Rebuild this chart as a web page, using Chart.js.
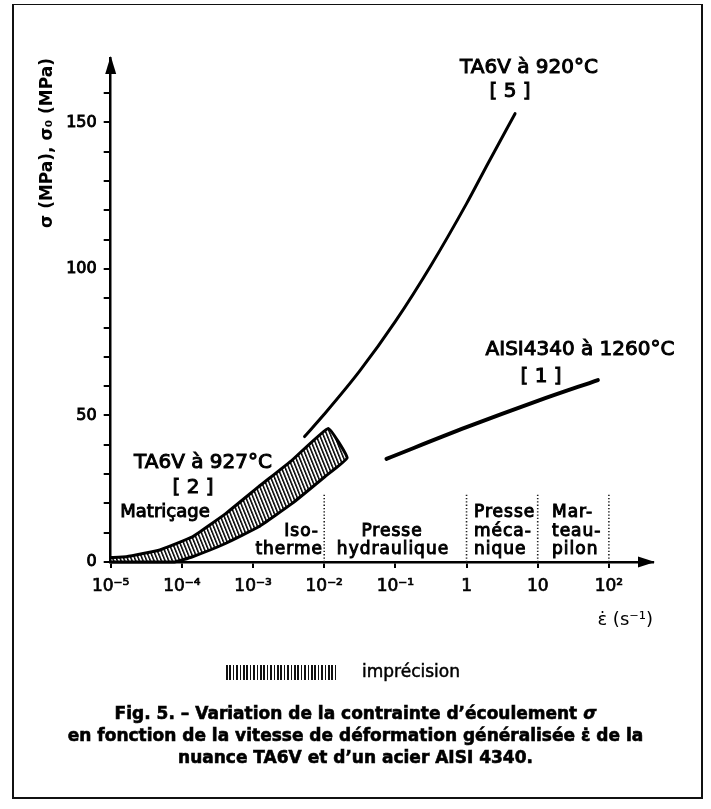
<!DOCTYPE html>
<html>
<head>
<meta charset="utf-8">
<script src="https://cdn.jsdelivr.net/npm/chart.js@4.4.1/dist/chart.umd.min.js"></script>
<style>
  html, body { margin: 0; padding: 0; background: #fff; }
  #wrap { position: relative; width: 711px; height: 809px; overflow: hidden; background: #fff; }
  #c { position: absolute; left: 0; top: 0; }
  #frame { position: absolute; left: 12px; top: 4px; width: 687px; height: 792px;
           border: 2.5px solid #111; border-top-width: 1.5px; border-bottom-width: 2px; }
  #swatch { position: absolute; left: 226px; top: 665px; width: 110px; height: 15px;
            background: repeating-linear-gradient(to right, #111 0 1.6px, transparent 1.6px 3.4px); }
  #legtext { position: absolute; left: 362px; top: 661px; font: 17px "DejaVu Sans"; color: #000;
             -webkit-text-stroke: 0.5px #000; }
  #caption { position: absolute; left: 0; top: 702px; width: 711px; text-align: center;
             font: bold 17px/22px "DejaVu Sans"; color: #000; -webkit-text-stroke: 0.6px #000; }
</style>
</head>
<body>
<div id="wrap">
  <canvas id="c" width="711" height="809"></canvas>
  <div id="frame"></div>
  <div id="swatch"></div>
  <div id="legtext">imprécision</div>
  <div id="caption">Fig. 5. – Variation de la contrainte d’écoulement <i>σ</i><br>en fonction de la vitesse de déformation généralisée ε̇ de la<br>nuance TA6V et d’un acier AISI 4340.</div>
</div>
<script>
// Strain rate (s^-1) and flow stress (MPa)
const ta6v920Rate   = [5.3e-3, 1e-2, 3.16e-2, 0.1, 0.316, 1, 2, 4.8];
const ta6v920Stress = [42.8, 50.4, 65.2, 82.1, 101.2, 122.3, 136.0, 153.0];

const aisiRate   = [0.075, 1, 10, 70];
const aisiStress = [35.2, 46.0, 55.0, 62.1];

// TA6V at 927 °C: uncertainty band, upper edge then lower edge (closed outline)
const bandUpperRate   = [1e-5, 1.66e-5, 4.9e-5, 1.41e-4, 4.17e-4, 1.2e-3, 3.55e-3, 1.14e-2];
const bandUpperStress = [1.5, 1.8, 4.1, 8.6, 16.6, 25.7, 34.8, 45.6];
const bandLowerRate   = [2.1e-2, 1.02e-2, 3.55e-3, 1.2e-3, 4.17e-4, 1.41e-4, 7.9e-5, 1e-5];
const bandLowerStress = [35.5, 29.1, 20.0, 12.0, 6.4, 1.8, 0, 0];

// Boundaries between forming processes
const dividerRate = [1e-2, 1, 10, 100];
const dividerTop  = [23, 23, 23, 23];

// Axis ticks
const xTickValues = [1e-5, 1e-4, 1e-3, 1e-2, 1e-1, 1, 10, 100];
const xTickLabels = ['10⁻⁵', '10⁻⁴', '10⁻³', '10⁻²', '10⁻¹', '1', '10', '10²'];
const yTickValues = [0, 10, 20, 30, 40, 50, 60, 70, 80, 90, 100, 110, 120, 130, 140, 150, 160];
const yTickLabels = ['0', '', '', '', '', '50', '', '', '', '', '100', '', '', '', '', '150', ''];

const pts = (xs, ys) => xs.map((x, i) => ({ x, y: ys[i] }));

function hatchPattern() {
  const c = document.createElement('canvas');
  c.width = 4; c.height = 4;
  const g = c.getContext('2d');
  g.fillStyle = '#000';
  g.fillRect(0, 0, 1.8, 4);
  const p = g.createPattern(c, 'repeat');
  p.setTransform(new DOMMatrix().rotate(-22).scale(0.85));
  return p;
}

const bandOutline = pts(bandUpperRate, bandUpperStress).concat(pts(bandLowerRate, bandLowerStress));
const dividerPoints = [];
dividerRate.forEach((x, i) => {
  dividerPoints.push({ x, y: 0 }, { x, y: dividerTop[i] }, { x, y: null });
});

const FONT = '"DejaVu Sans", sans-serif';

// Text annotations, axis arrowheads
const decor = {
  id: 'decor',
  afterDraw(chart) {
    const ctx = chart.ctx;
    const a = chart.chartArea;
    ctx.save();
    ctx.fillStyle = '#000';
    // arrowheads
    ctx.beginPath();
    ctx.moveTo(a.left, a.top - 2);
    ctx.lineTo(a.left - 5.5, a.top + 16);
    ctx.lineTo(a.left + 5.5, a.top + 16);
    ctx.closePath(); ctx.fill();
    ctx.beginPath();
    ctx.moveTo(a.right + 2, a.bottom);
    ctx.lineTo(a.right - 15, a.bottom - 5.5);
    ctx.lineTo(a.right - 15, a.bottom + 5.5);
    ctx.closePath(); ctx.fill();

    const txt = (s, x, y, size, align) => {
      ctx.font = size + 'px ' + FONT;
      ctx.textAlign = align || 'center';
      ctx.textBaseline = 'middle';
      ctx.lineWidth = 1;
      ctx.strokeStyle = '#000';
      ctx.fillText(s, x, y);
      ctx.strokeText(s, x, y);
    };
    txt('TA6V à 920°C', 529, 68, 20);
    txt('[ 5 ]', 510, 92, 20);
    txt('AISI4340 à 1260°C', 580, 350, 20);
    txt('[ 1 ]', 541, 377, 20);
    txt('TA6V à 927°C', 203, 463, 20);
    txt('[ 2 ]', 193, 488, 20);
    txt('Matriçage', 165, 512, 18);

    ctx.letterSpacing = '1px';
    txt('Iso-', 319, 532, 17, 'right');
    txt('therme', 323, 550, 17, 'right');
    txt('Presse', 392, 532, 17);
    txt('hydraulique', 393, 550, 17);
    txt('Presse', 474, 513, 17, 'left');
    txt('méca-', 474, 532, 17, 'left');
    txt('nique', 474, 550, 17, 'left');
    txt('Mar-', 552, 513, 17, 'left');
    txt('teau-', 552, 532, 17, 'left');
    txt('pilon', 552, 550, 17, 'left');
    ctx.restore();
  }
};

new Chart(document.getElementById('c'), {
  type: 'line',
  data: {
    datasets: [
      {
        label: 'TA6V à 927°C',
        data: bandOutline,
        fill: 'shape',
        backgroundColor: hatchPattern(),
        borderColor: '#000',
        borderWidth: 3,
        borderJoinStyle: 'miter',
        tension: 0.1,
        pointRadius: 0,
        clip: false
      },
      {
        label: 'TA6V à 920°C',
        data: pts(ta6v920Rate, ta6v920Stress),
        borderColor: '#000',
        borderWidth: 3,
        tension: 0.4,
        cubicInterpolationMode: 'monotone',
        pointRadius: 0,
        fill: false,
        borderCapStyle: 'round'
      },
      {
        label: 'AISI4340 à 1260°C',
        data: pts(aisiRate, aisiStress),
        borderColor: '#000',
        borderWidth: 4,
        tension: 0.3,
        cubicInterpolationMode: 'monotone',
        pointRadius: 0,
        fill: false,
        borderCapStyle: 'round'
      },
      {
        label: 'limites',
        data: dividerPoints,
        borderColor: '#222',
        borderWidth: 1.6,
        borderDash: [1.3, 2],
        pointRadius: 0,
        fill: false,
        spanGaps: false
      }
    ]
  },
  options: {
    responsive: false,
    animation: false,
    devicePixelRatio: 1,
    layout: { padding: { left: 20, right: 58, top: 58, bottom: 172 } },
    plugins: { legend: { display: false }, tooltip: { enabled: false } },
    scales: {
      x: {
        type: 'logarithmic',
        min: 1e-5,
        max: Math.pow(10, 2.62),
        afterBuildTicks: s => { s.ticks = xTickValues.map(v => ({ value: v })); },
        afterFit: s => { s.height = 75; },
        ticks: {
          autoSkip: false, maxRotation: 0, color: '#000', padding: 8,
          font: { family: FONT, size: 17 },
          textStrokeColor: '#000', textStrokeWidth: 0.7,
          callback: (v, i) => xTickLabels[i]
        },
        grid: { drawOnChartArea: false, drawTicks: true, tickLength: 6, color: '#000', lineWidth: 2 },
        border: { display: true, color: '#000', width: 2.5 },
        title: {
          display: true, text: 'ε̇ (s⁻¹)', align: 'end', color: '#000',
          font: { family: FONT, size: 18 }, padding: { top: 0, bottom: 6 }
        }
      },
      y: {
        type: 'linear',
        min: 0,
        max: 172,
        afterBuildTicks: s => { s.ticks = yTickValues.map(v => ({ value: v })); },
        afterFit: s => { s.width = 90.7; },
        ticks: {
          autoSkip: false, color: '#000', padding: 7,
          font: { family: FONT, size: 16 },
          textStrokeColor: '#000', textStrokeWidth: 0.9,
          callback: (v, i) => yTickLabels[i]
        },
        grid: { drawOnChartArea: false, drawTicks: true, tickLength: 7, color: '#000', lineWidth: 2 },
        border: { display: true, color: '#000', width: 2.5 },
        title: {
          display: true, text: 'σ (MPa), σ₀ (MPa)', align: 'end', color: '#000',
          font: { family: FONT, size: 17, weight: 'bold' }, padding: { top: 17, bottom: 0 }
        }
      }
    }
  },
  plugins: [decor]
});
</script>
</body>
</html>
